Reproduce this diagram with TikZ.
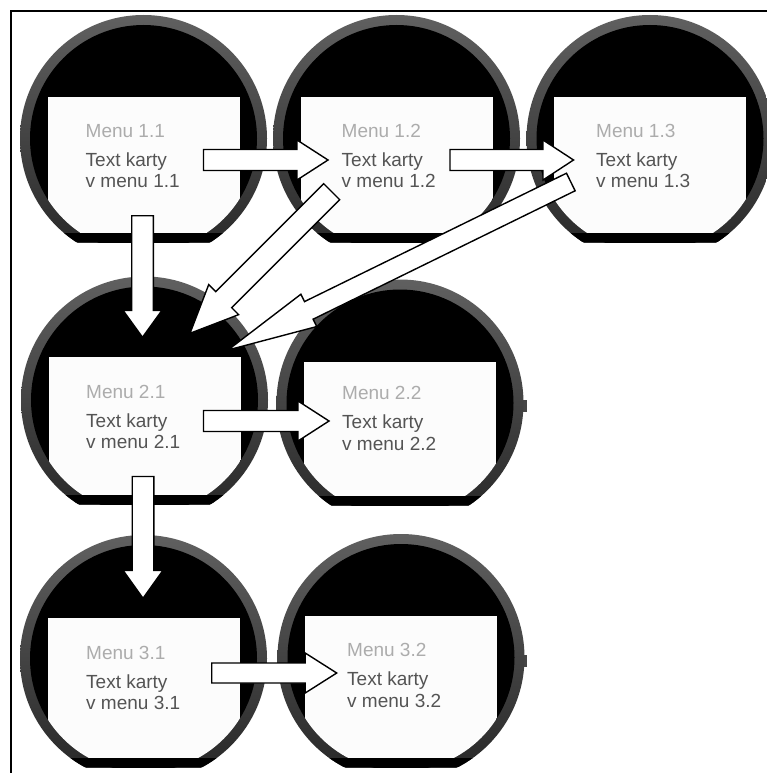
\documentclass[tikz,border=0pt]{standalone}
\usepackage{fontspec}
\setmainfont{Liberation Sans}
\usetikzlibrary{calc}

\definecolor{bezeltop}{RGB}{96,96,96}
\definecolor{bezelbot}{RGB}{38,38,38}
\definecolor{crowngray}{RGB}{70,70,70}
\definecolor{titlegray}{RGB}{172,172,172}
\definecolor{bodygray}{RGB}{84,84,84}
\definecolor{cardwhite}{RGB}{252,252,252}

\tikzset{
  arrowbox/.style={fill=white, draw=black, line width=1.4pt, line join=miter},
  cardtitle/.style={anchor=base west, inner sep=0pt, text=titlegray,
    font=\fontsize{19}{20}\selectfont},
  cardbody/.style={anchor=base west, inner sep=0pt, text=bodygray,
    font=\fontsize{19}{20}\selectfont},
  frameline/.style={draw=black, line width=1.8pt},
  crown/.style={fill=crowngray}
}

% round watch face with flat bottom, black screen and a white card
% #1 id, #2 cx, #3 cy, #4 radius, #5 card top, #6 flat cut, #7 text x,
% #8 title baseline, #9 menu number
\newcommand\watchface[9]{%
  \coordinate (#1) at (#2,#3);
  \begin{scope}
    \clip ({#2-#4-2},{#3-#4-2}) rectangle ({#2+#4+2},#6);
    \shade[top color=bezeltop, bottom color=bezelbot]
      (#1) circle [radius={#4*1pt}];
    \fill[black] (#1) circle [radius={(#4-10)*1pt}];
    \begin{scope}
      \clip (#1) circle [radius={#4*1pt}];
      \fill[black] ({#2-#4},{#6-9}) rectangle ({#2+#4},#6);
    \end{scope}
    \begin{scope}
      \clip (#1) circle [radius={(#4-10)*1pt}];
      \fill[cardwhite] ({#2-96},#5) rectangle ({#2+96},{#6-9});
    \end{scope}
  \end{scope}
  \node[cardtitle] (#1-title) at (#7,#8) {Menu #9};
  \node[cardbody] (#1-line1) at (#7,{#8+29}) {Text karty};
  \node[cardbody] (#1-line2) at (#7,{#8+50.5}) {v menu #9};
}

% side button peeking out on the right of a watch
% #1 id, #2 x, #3 y
\newcommand\watchcrown[3]{%
  \fill[crown] ({#2-3},{#3-6}) rectangle ({#2+3},{#3+6});
  \coordinate (#1) at (#2,#3);
}

% white block arrow from #1 to #2
% #3 shaft half width, #4 head half width, #5 head length
\newcommand\blockarrow[5]{%
  \path ($(#2)!#5pt!(#1)$) coordinate (#1-base);
  \draw[arrowbox]
    ($(#1)!#3pt!90:(#2)$) --
    ($(#1-base)!#3pt!90:(#2)$) --
    ($(#1-base)!#4pt!90:(#2)$) --
    (#2) --
    ($(#1-base)!#4pt!-90:(#2)$) --
    ($(#1-base)!#3pt!-90:(#2)$) --
    ($(#1)!#3pt!-90:(#2)$) -- cycle;
}

\begin{document}
\begin{tikzpicture}[x=1pt, y=-1pt]
  \useasboundingbox (0,0) rectangle (766,773);
  \fill[white] (0,0) rectangle (766,773);

  % outer frame, open towards the right and the bottom
  \draw[frameline] (11,780) -- (11,11) -- (780,11);

  % buttons of the second column watches
  \watchcrown{c22}{524}{406}
  \watchcrown{c32}{524}{661}

  % first row
  \watchface{w11}{143.5}{138.5}{123.5}{97}{242}{85.5}{137}{1.1}
  \watchface{w12}{396.5}{138.5}{123.5}{97}{242}{341.5}{137}{1.2}
  \watchface{w13}{650}{138.5}{123.5}{97}{242}{596}{137}{1.3}
  % second row
  \watchface{w21}{144.5}{400}{123.5}{357}{504}{86}{398.3}{2.1}
  \watchface{w22}{400}{403}{123.5}{362}{505}{342}{399.5}{2.2}
  % third row
  \watchface{w31}{143.5}{658.5}{123.5}{618}{767}{86}{659}{3.1}
  \watchface{w32}{401}{657.5}{123.5}{616}{767}{347}{656.5}{3.2}

  % arrow end points
  \coordinate (a11r) at (203.5,160);   \coordinate (a12l) at (328,160);
  \coordinate (a12r) at (450,160);     \coordinate (a13l) at (573.5,160);
  \coordinate (a11d) at (142.5,215.7); \coordinate (a21u) at (142.5,337.3);
  \coordinate (a12d) at (331.7,191.7); \coordinate (a21m) at (190,333.3);
  \coordinate (a13d) at (570.8,182);   \coordinate (a21n) at (228,350);
  \coordinate (a21r) at (203.5,421);   \coordinate (a22l) at (329,421);
  \coordinate (a21d) at (143,476.5);   \coordinate (a31u) at (143,598.3);
  \coordinate (a31r) at (211.7,673);   \coordinate (a32l) at (336.7,673);

  % navigation arrows
  \blockarrow{a11r}{a12l}{10.5}{20}{31}
  \blockarrow{a12r}{a13l}{10.5}{20}{30.5}
  \blockarrow{a11d}{a21u}{10.8}{19.5}{27}
  \blockarrow{a12d}{a21m}{11.3}{21.2}{47.6}
  \blockarrow{a13d}{a21n}{9.8}{18}{90}
  \blockarrow{a21r}{a22l}{10.5}{20}{31}
  \blockarrow{a21d}{a31u}{10.8}{20}{28}
  \blockarrow{a31r}{a32l}{10}{20}{31.5}
\end{tikzpicture}
\end{document}
